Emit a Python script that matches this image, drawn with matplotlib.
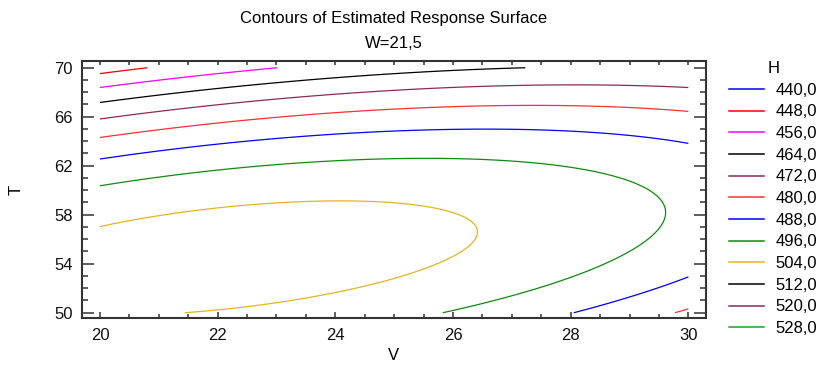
import numpy as np
import matplotlib
matplotlib.use("Agg")
import matplotlib.pyplot as plt
from matplotlib.lines import Line2D
from matplotlib.ticker import MultipleLocator

plt.rcParams['font.family'] = ['Liberation Sans', 'DejaVu Sans']

# ---- chart data ----
title_main = "Contours of Estimated Response Surface"
title_sub = "W=21,5"
x_label = "V"
y_label = "T"
legend_title = "H"
levels = [440.0, 448.0, 456.0, 464.0, 472.0, 480.0, 488.0, 496.0, 504.0, 512.0, 520.0, 528.0]
level_labels = ["440,0", "448,0", "456,0", "464,0", "472,0", "480,0",
                "488,0", "496,0", "504,0", "512,0", "520,0", "528,0"]
level_colors = ["#0000ff", "#ff0000", "#ff00ff", "#000000", "#8b2a5a", "#ff3030",
                "#0000ff", "#108a10", "#e6b422", "#000000", "#8b2a5a", "#20a020"]
x_ticks = [20, 22, 24, 26, 28, 30]
y_ticks = [50, 54, 58, 62, 66, 70]

# contour points (V, T) for each level of H
h448_V = [20.0, 20.82]
h448_T = [69.5, 70.0]
h456_V = [20.0, 21.0, 22.0, 23.0]
h456_T = [68.4, 68.9, 69.5, 70.0]
h464_V = [20.0, 22.0, 23.0, 24.0, 26.0, 27.3]
h464_T = [67.2, 68.25, 68.8, 69.2, 69.75, 70.0]
h472_V = [20.0, 22.0, 23.0, 24.0, 26.0, 28.0, 30.0]
h472_T = [65.8, 67.1, 67.5, 67.9, 68.3, 68.55, 68.35]
h480_V = [20.0, 22.0, 24.0, 26.0, 28.0, 30.0, 29.83, 30.0]
h480_T = [64.3, 65.6, 66.4, 66.8, 66.95, 66.45, 50.0, 50.28]
h488_V = [20.0, 22.0, 24.0, 26.0, 28.0, 29.0, 30.0, 28.1, 29.0, 30.0]
h488_T = [62.6, 63.8, 64.5, 64.9, 64.9, 64.6, 63.8, 50.0, 51.5, 52.86]
h496_V = [20.0, 22.0, 24.0, 26.0, 27.5, 28.0, 28.5, 29.0, 29.4, 29.6, 29.5, 29.0, 28.0, 27.0, 25.9]
h496_T = [60.4, 61.6, 62.3, 62.6, 62.5, 61.9, 61.4, 60.7, 59.75, 58.25, 56.75, 55.3, 53.0, 51.6, 50.0]
h504_V = [20.0, 21.0, 22.0, 23.0, 24.0, 25.1, 25.8, 26.2, 26.45, 26.1, 25.0, 24.0, 23.0, 22.0, 21.55]
h504_T = [57.0, 57.65, 58.5, 58.9, 59.0, 58.87, 58.4, 57.6, 56.6, 54.85, 52.4, 51.6, 50.9, 50.16, 50.0]

readings = [(448.0, h448_V, h448_T), (456.0, h456_V, h456_T), (464.0, h464_V, h464_T),
            (472.0, h472_V, h472_T), (480.0, h480_V, h480_T), (488.0, h488_V, h488_T),
            (496.0, h496_V, h496_T), (504.0, h504_V, h504_T)]

# ---- fit the quadratic response surface through the read points ----
Vs, Ts, Hs = [], [], []
for h, vv, tt in readings:
    Vs += vv
    Ts += tt
    Hs += [h] * len(vv)
Vs, Ts, Hs = map(np.asarray, (Vs, Ts, Hs))

def design(v, t):
    return np.column_stack([np.ones_like(v), v, t, v * v, t * t, v * t])

coef, *_ = np.linalg.lstsq(design(Vs, Ts), Hs, rcond=None)

vg = np.linspace(20, 30, 301)
tg = np.linspace(50, 70, 301)
VG, TG = np.meshgrid(vg, tg)
ZG = (design(VG.ravel(), TG.ravel()) @ coef).reshape(VG.shape)

# ---- figure ----
FS = 12
fig = plt.figure(figsize=(8.2, 3.65), dpi=100)
ax = fig.add_axes([81.7 / 820, 1 - 318 / 365, (706 - 81.7) / 820, (318 - 61) / 365])

ax.contour(VG, TG, ZG, levels=levels, colors=level_colors, linewidths=0.9)

ax.set_xlim(19.69, 30.30)
ax.set_ylim(49.57, 70.55)
ax.set_xticks(x_ticks)
ax.set_yticks(y_ticks)
ax.xaxis.set_minor_locator(MultipleLocator(0.5))
ax.yaxis.set_minor_locator(MultipleLocator(1))

spine_col = "#333333"
for s in ax.spines.values():
    s.set_linewidth(1.5)
    s.set_color(spine_col)

ax.tick_params(axis='y', which='both', direction='in', left=True, right=True,
               color=spine_col, width=1.1, labelsize=FS, pad=6.5, labelcolor="#111111")
ax.tick_params(axis='y', which='major', length=8.6)
ax.tick_params(axis='y', which='minor', length=4.3)
ax.tick_params(axis='x', which='both', direction='in', bottom=True, top=False,
               color=spine_col, width=1.1, labelsize=FS, pad=7.5, labelcolor="#111111")
ax.tick_params(axis='x', which='major', length=4.5)
ax.tick_params(axis='x', which='minor', length=2.6)

sec = ax.secondary_xaxis('top')
sec.set_xticks(x_ticks)
sec.xaxis.set_minor_locator(MultipleLocator(0.5))
sec.tick_params(axis='x', which='both', direction='in', length=3, width=1.1,
                color=spine_col, labeltop=False)
sec.spines['top'].set_visible(False)

ax.set_xlabel(x_label, fontsize=FS, labelpad=3)
ax.set_ylabel(y_label, fontsize=FS, labelpad=22)

fig.text(394 / 820, 1 - 18 / 365, title_main, ha='center', va='center', fontsize=FS)
fig.text(394 / 820, 1 - 44 / 365, title_sub, ha='center', va='center', fontsize=FS)

handles = [Line2D([], [], color=c, lw=1.1) for c in level_colors]
leg = fig.legend(handles, level_labels, title=legend_title, loc='upper left',
                 bbox_to_anchor=(729 / 820, 1 - 61 / 365), frameon=False,
                 fontsize=FS, title_fontsize=FS, handlelength=2.1,
                 handletextpad=0.7, labelspacing=0.4, borderpad=0, borderaxespad=0)

fig.savefig("out.png", dpi=100)
